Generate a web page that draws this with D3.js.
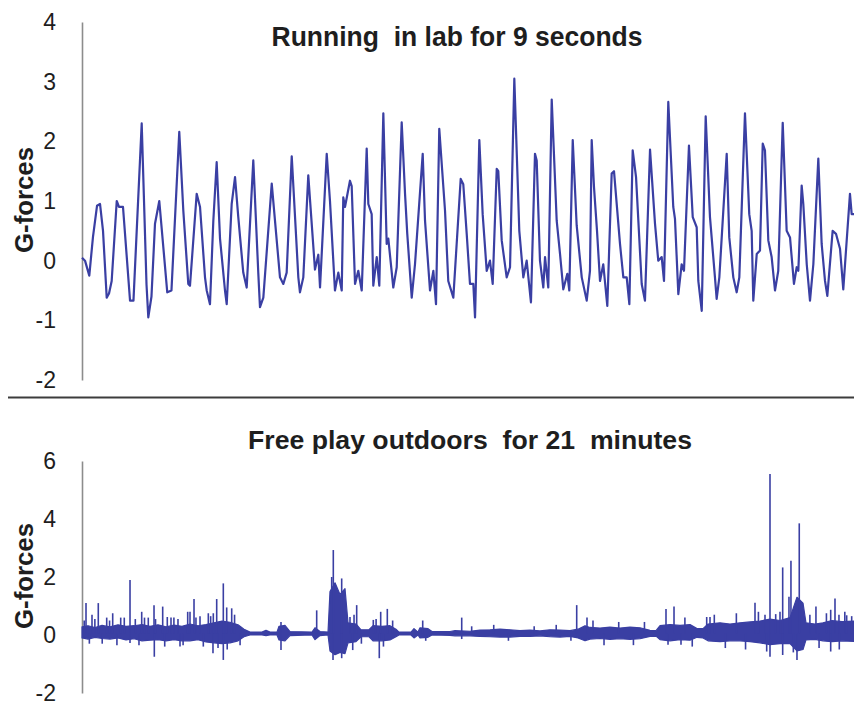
<!DOCTYPE html>
<html>
<head>
<meta charset="utf-8">
<script src="https://cdn.jsdelivr.net/npm/d3@7"></script>
<style>
  html, body { margin: 0; padding: 0; background: #ffffff; }
  svg { display: block; }
</style>
</head>
<body>
<svg id="chart" width="854" height="709"></svg>
<script>
// ---------- Panel 1: running in lab (time in seconds, G-forces) ----------
const runTitle = "Running  in lab for 9 seconds";
const runTicks = [-2, -1, 0, 1, 2, 3, 4];
const runTime = [0,0.035,0.085,0.128,0.175,0.21,0.245,0.288,0.315,0.346,0.405,0.431,0.478,0.56,0.6,0.696,0.752,0.773,0.81,0.851,0.901,0.994,1.043,1.134,1.181,1.239,1.259,1.337,1.376,1.434,1.454,1.492,1.531,1.57,1.609,1.667,1.687,1.745,1.784,1.822,1.88,1.92,1.997,2.055,2.075,2.114,2.212,2.308,2.347,2.386,2.445,2.522,2.541,2.58,2.638,2.716,2.755,2.775,2.853,2.891,2.949,2.988,3.028,3.046,3.066,3.124,3.144,3.183,3.221,3.261,3.319,3.338,3.377,3.396,3.436,3.466,3.513,3.552,3.571,3.629,3.669,3.727,3.766,3.792,3.844,3.882,3.972,3.999,4.057,4.096,4.127,4.165,4.232,4.27,4.329,4.415,4.445,4.485,4.523,4.562,4.582,4.632,4.671,4.718,4.756,4.788,4.835,4.853,4.893,4.951,4.99,5.04,5.098,5.145,5.184,5.234,5.281,5.301,5.339,5.378,5.398,5.436,5.476,5.534,5.573,5.611,5.658,5.681,5.721,5.767,5.826,5.884,5.922,5.942,5.969,6.004,6.039,6.077,6.124,6.175,6.202,6.272,6.311,6.35,6.381,6.42,6.459,6.525,6.563,6.622,6.68,6.718,6.758,6.785,6.835,6.893,6.913,6.952,6.991,7.018,7.076,7.12,7.166,7.185,7.225,7.271,7.321,7.379,7.399,7.43,7.516,7.546,7.593,7.632,7.663,7.729,7.779,7.807,7.826,7.866,7.904,7.936,7.962,8.001,8.04,8.079,8.117,8.169,8.215,8.254,8.3,8.332,8.351,8.39,8.409,8.449,8.487,8.526,8.584,8.623,8.662,8.689,8.751,8.79,8.837,8.875,8.953,8.973,9.0];
const runG = [0.05,0.0,-0.25,0.4,0.92,0.95,0.5,-0.62,-0.55,-0.34,1.0,0.9,0.9,-0.67,-0.67,2.3,-0.4,-0.95,-0.6,0.62,1.0,-0.53,-0.5,2.16,0.84,-0.39,-0.42,1.12,0.9,-0.28,-0.5,-0.73,0.67,1.65,0.37,-0.5,-0.73,0.95,1.4,0.73,-0.2,-0.45,1.68,-0.2,-0.78,-0.62,1.29,-0.28,-0.39,-0.2,1.75,-0.28,-0.53,-0.28,1.43,-0.15,0.1,-0.45,1.79,1.0,-0.5,-0.2,-0.5,1.06,0.9,1.34,1.25,-0.39,-0.17,-0.5,1.88,0.95,0.78,-0.42,0.06,-0.42,2.47,0.28,0.37,-0.45,-0.11,2.32,1.12,0.45,-0.62,-0.06,1.79,0.67,-0.5,-0.17,-0.73,2.21,0.84,-0.34,-0.62,1.37,1.28,0.45,-0.39,-0.39,-0.95,2.02,0.78,-0.17,0.0,-0.39,1.54,1.5,0.34,-0.28,-0.11,3.05,0.5,-0.28,0.0,-0.7,1.79,1.68,0.0,-0.45,0.06,-0.45,2.7,0.67,0.11,-0.48,-0.22,-0.5,2.02,0.59,-0.28,-0.67,-0.17,2.02,1.23,0.5,-0.34,-0.06,-0.76,1.46,1.5,0.28,-0.28,-0.28,-0.73,1.85,1.4,-0.39,-0.67,1.86,0.62,0.0,0.06,-0.34,2.66,0.9,0.7,-0.56,-0.06,-0.17,1.93,0.73,0.56,-0.34,-0.84,2.42,0.73,-0.28,-0.64,-0.28,1.79,0.39,-0.28,-0.53,-0.28,2.47,0.78,0.5,-0.67,0.11,0.17,1.96,1.85,0.34,0.06,-0.5,-0.17,2.31,0.5,0.39,-0.39,-0.11,-0.17,1.26,0.95,-0.06,-0.67,-0.06,1.71,0.28,-0.34,-0.59,0.5,0.45,0.2,-0.48,1.12,0.78,0.78];

// ---------- Panel 2: free play outdoors (time in minutes, G-forces) ----------
const playTitle = "Free play outdoors  for 21  minutes";
const playTicks = [-2, 0, 2, 4, 6];
// envelope of the dense noise band
const bandTime = [0,0.163,0.354,0.544,0.762,0.979,1.197,1.415,1.632,1.85,2.068,2.285,2.503,2.72,2.938,3.155,3.373,3.591,3.808,4.026,4.244,4.407,4.57,4.896,5.005,5.114,5.304,5.359,5.522,5.658,6.256,6.338,6.474,6.692,6.746,6.882,7.018,7.154,7.236,7.453,7.59,7.807,7.916,8.161,8.378,8.541,8.623,8.949,9.031,9.14,9.194,9.412,9.521,10.01,10.146,10.554,10.826,11.098,11.37,11.642,11.914,12.186,12.458,12.73,13.003,13.275,13.492,13.683,13.819,14.091,14.363,14.635,14.907,15.179,15.451,15.614,15.723,15.995,16.267,16.539,16.729,16.893,17.029,17.355,17.627,17.899,18.171,18.443,18.715,18.988,19.26,19.449,19.613,19.694,19.939,20.157,20.401,20.673,21.0];
const bandHigh = [0.28,0.32,0.26,0.33,0.28,0.35,0.3,0.32,0.36,0.3,0.35,0.28,0.34,0.3,0.38,0.32,0.36,0.42,0.48,0.44,0.35,0.2,0.1,0.1,0.16,0.1,0.1,0.3,0.33,0.12,0.1,0.25,0.12,0.1,1.5,1.8,1.4,1.6,0.42,0.38,0.18,0.18,0.32,0.3,0.32,0.2,0.1,0.1,0.22,0.1,0.25,0.22,0.12,0.12,0.15,0.13,0.17,0.18,0.2,0.18,0.15,0.17,0.14,0.18,0.17,0.15,0.2,0.32,0.26,0.24,0.27,0.24,0.27,0.25,0.16,0.15,0.32,0.36,0.33,0.36,0.22,0.22,0.38,0.42,0.38,0.42,0.45,0.48,0.55,0.5,0.6,1.3,1.1,0.42,0.38,0.42,0.5,0.46,0.48];
const bandLow = [-0.1,-0.14,-0.08,-0.12,-0.14,-0.1,-0.17,-0.13,-0.2,-0.18,-0.16,-0.2,-0.16,-0.2,-0.2,-0.16,-0.24,-0.27,-0.3,-0.27,-0.2,-0.06,0.0,0.0,-0.02,0.0,0.0,-0.17,-0.2,-0.02,0.0,-0.16,-0.02,0.0,-0.55,-0.68,-0.6,-0.64,-0.27,-0.23,-0.06,-0.06,-0.2,-0.2,-0.17,-0.06,0.0,0.0,-0.1,0.0,-0.1,-0.08,0.0,-0.01,-0.03,-0.03,-0.05,-0.06,-0.07,-0.07,-0.05,-0.05,-0.03,-0.06,-0.07,-0.05,-0.1,-0.2,-0.14,-0.12,-0.15,-0.13,-0.15,-0.13,-0.05,-0.04,-0.16,-0.2,-0.16,-0.18,-0.08,-0.1,-0.2,-0.23,-0.2,-0.2,-0.23,-0.27,-0.33,-0.3,-0.3,-0.55,-0.5,-0.17,-0.15,-0.2,-0.23,-0.2,-0.22];
// individual spikes (peak value of each spike, upward or downward)
const spikeTime = [0.109,0.272,0.443,0.672,0.835,1.053,1.306,1.624,1.803,1.959,2.195,2.32,2.421,2.611,2.875,2.938,3.047,3.21,3.436,3.572,3.664,3.844,3.936,4.072,5.413,6.384,6.792,6.836,7.064,7.29,7.472,7.924,8.125,8.305,9.268,10.329,13.457,13.737,15.886,16.104,16.993,17.083,18.307,18.579,18.715,18.87,18.987,19.06,19.231,19.285,19.511,19.965,20.366,20.483,20.591,20.801,20.937,
                   1.306,1.967,2.666,3.563,3.844,5.413,6.828,7.064,7.364,8.087,10.329,15.941,16.294,18.625,18.715,19.06,19.449,20.366,
                   0.06,0.2,0.35,0.55,0.75,0.95,1.15,1.45,1.55,1.7,2.0,2.25,2.5,2.75,3.1,3.3,3.5,3.7,3.95,4.15,4.3,
                   7.4,7.6,8.0,8.2,8.45,9.35,10.6,11.2,11.6,12.3,12.9,13.3,
                   13.9,14.2,14.6,15.0,15.3,16.4,16.6,17.2,17.5,17.8,18.05,18.4,19.35,19.8,20.05,20.25,20.6,20.75];
const spikeValue = [1.1,0.7,1.1,0.6,0.75,0.6,1.9,0.8,0.6,1.03,0.98,0.62,0.6,0.55,0.8,0.8,1.24,0.65,0.75,0.75,1.24,1.78,0.95,0.92,0.45,0.85,2.0,2.93,1.95,0.62,1.03,0.52,0.8,0.9,0.5,0.6,1.03,0.6,0.9,0.98,0.62,0.62,1.11,0.7,5.55,0.72,0.8,2.33,1.32,2.56,3.85,0.98,0.87,1.26,0.7,0.68,0.65,
                    -0.28,-0.75,-0.4,-0.63,-0.86,-0.52,-0.86,-0.8,-0.52,-0.8,-0.14,-0.34,-0.34,-0.57,-0.75,-0.69,-0.86,-0.57,
                    0.5,-0.3,0.55,-0.3,0.5,-0.35,0.6,0.55,-0.35,0.6,0.55,-0.4,0.6,-0.35,0.6,-0.4,0.65,-0.45,-0.5,0.7,-0.35,
                    0.7,-0.3,0.55,-0.4,0.5,-0.2,0.3,0.35,-0.2,0.3,0.35,-0.2,
                    0.5,-0.35,0.45,-0.35,0.45,0.6,-0.4,0.7,-0.45,0.75,-0.5,0.8,-0.6,0.7,-0.45,0.75,-0.5,0.8];
const playBaseline = 0.05;

// ---------- drawing ----------
const svg = d3.select("#chart");
const ink = "#3a3fa3";
const textColor = "#1e1e1e";
const axisColor = "#8c8c8c";
const fontFam = "'Liberation Sans', Arial, Helvetica, sans-serif";

function drawAxis(g, y, ticks, x0) {
  const axis = d3.axisLeft(y).tickValues(ticks).tickSize(0).tickPadding(26)
    .tickFormat(d => String(d));
  const ag = g.append("g").attr("transform", `translate(${x0},0)`).call(axis);
  ag.select(".domain").attr("stroke", axisColor).attr("stroke-width", 1.6);
  ag.selectAll("text")
    .attr("fill", textColor)
    .style("font-family", fontFam)
    .style("font-size", "23px");
  return ag;
}

function yLabel(g, cx, cy) {
  g.append("text")
    .attr("transform", `translate(${cx},${cy}) rotate(-90)`)
    .attr("text-anchor", "middle")
    .attr("fill", textColor)
    .style("font-family", fontFam)
    .style("font-weight", "bold")
    .style("font-size", "25px")
    .attr("textLength", 106)
    .attr("lengthAdjust", "spacingAndGlyphs")
    .text("G-forces");
}

// Panel 1
const x1 = d3.scaleLinear().domain([0, 9]).range([82, 854]);
const y1 = d3.scaleLinear().domain([-2, 4]).range([380, 22]);
const g1 = svg.append("g");
drawAxis(g1, y1, runTicks, 82);
yLabel(g1, 33, 200);
g1.append("text")
  .attr("x", 457).attr("y", 46)
  .attr("text-anchor", "middle")
  .attr("fill", textColor)
  .style("font-family", fontFam)
  .style("font-weight", "bold")
  .style("font-size", "27px")
  .style("white-space", "pre")
  .attr("textLength", 371)
  .attr("lengthAdjust", "spacingAndGlyphs")
  .text(runTitle);
const runData = runTime.map((t, i) => [t, runG[i]]);
g1.append("path")
  .datum(runData)
  .attr("fill", "none")
  .attr("stroke", ink)
  .attr("stroke-width", 2.2)
  .attr("stroke-linejoin", "round")
  .attr("d", d3.line().x(d => x1(d[0])).y(d => y1(d[1])));

// separator
svg.append("line")
  .attr("x1", 8).attr("x2", 854).attr("y1", 397.5).attr("y2", 397.5)
  .attr("stroke", "#3c3c3c").attr("stroke-width", 2);

// Panel 2
const x2 = d3.scaleLinear().domain([0, 21]).range([82, 854]);
const y2 = d3.scaleLinear().domain([-2, 6]).range([693, 461]);
const g2 = svg.append("g");
drawAxis(g2, y2, playTicks, 82);
yLabel(g2, 33, 576);
g2.append("text")
  .attr("x", 470).attr("y", 449)
  .attr("text-anchor", "middle")
  .attr("fill", textColor)
  .style("font-family", fontFam)
  .style("font-weight", "bold")
  .style("font-size", "25px")
  .style("white-space", "pre")
  .attr("textLength", 444)
  .attr("lengthAdjust", "spacingAndGlyphs")
  .text(playTitle);

const bandData = bandTime.map((t, i) => ({t, hi: bandHigh[i], lo: bandLow[i]}));
g2.append("path")
  .datum(bandData)
  .attr("fill", ink)
  .attr("stroke", ink)
  .attr("stroke-width", 1.2)
  .attr("stroke-linejoin", "round")
  .attr("d", d3.area().x(d => x2(d.t)).y0(d => y2(d.lo)).y1(d => y2(d.hi)));

const spikeData = spikeTime.map((t, i) => [t, spikeValue[i]]);
g2.selectAll("line.spike")
  .data(spikeData)
  .join("line")
  .attr("class", "spike")
  .attr("x1", d => x2(d[0])).attr("x2", d => x2(d[0]))
  .attr("y1", y2(playBaseline)).attr("y2", d => y2(d[1]))
  .attr("stroke", ink)
  .attr("stroke-width", 1.6);
</script>
</body>
</html>
